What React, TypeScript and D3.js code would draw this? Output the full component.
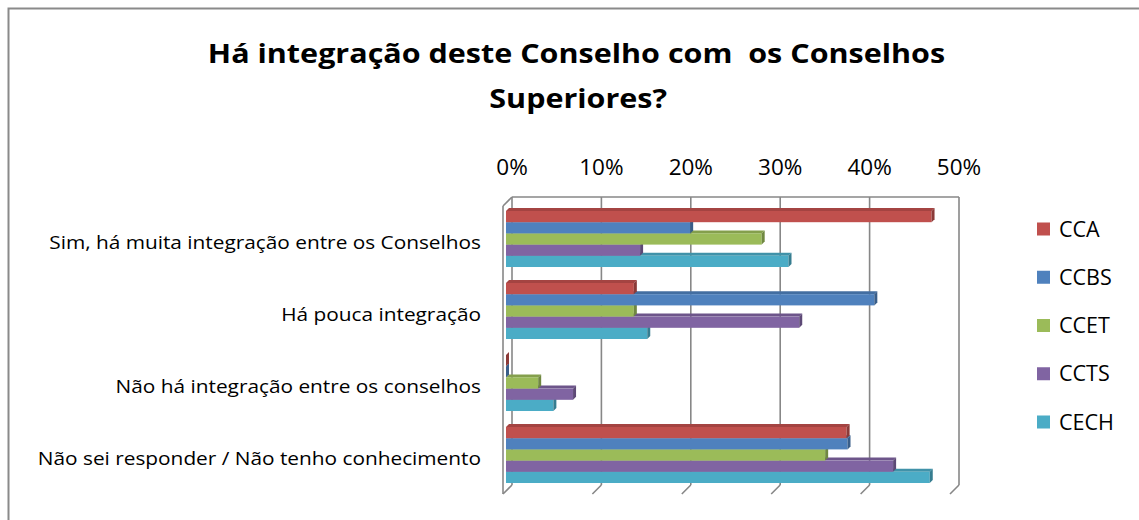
import React from "react";
import * as d3 from "d3";

const categories = [
  "Sim, há muita integração entre os Conselhos",
  "Há pouca integração",
  "Não há integração entre os conselhos",
  "Não sei responder / Não tenho conhecimento",
];
const seriesNames = ["CCA", "CCBS", "CCET", "CCTS", "CECH"];
const cca = [47.6, 14.3, 0, 38.1];
const ccbs = [20.6, 41.2, 0, 38.2];
const ccet = [28.6, 14.3, 3.6, 35.7];
const ccts = [15.0, 32.8, 7.5, 43.3];
const cech = [31.6, 15.8, 5.3, 47.4];
const xTicks = [0, 10, 20, 30, 40, 50];
const colors = ["#C0504D", "#4F81BD", "#9BBB59", "#8064A2", "#4BACC6"];

const seriesValues = [cca, ccbs, ccet, ccts, cech];

const W = 1139;
const H = 520;
const FONT = "'Open Sans', sans-serif";

// 3d offsets: back wall -> front edge
const DX = 9;
const DY = 9;
const BAR_OFF = 6;
const BAR_DEPTH = 3;

// the original font (Calibri) runs wider than Open Sans at the same height
const stretch = (cx: number, sx: number) =>
  `translate(${cx},0) scale(${sx},1) translate(${-cx},0)`;

const App: React.FC = () => {
  const x = d3.scaleLinear().domain([0, 50]).range([512, 959]);
  const y = d3
    .scaleBand<string>()
    .domain(categories)
    .range([197, 485])
    .paddingInner(0.222)
    .paddingOuter(0.111);
  const ySub = d3
    .scaleBand<string>()
    .domain(seriesNames)
    .range([0, y.bandwidth()]);
  const legendY = d3
    .scalePoint<string>()
    .domain(seriesNames)
    .range([229, 422]);

  const top = 197;
  const bottom = 485;
  const gridColor = "#878787";

  // draw bars bottom-up so the upper bar hides the lower bar's top face
  const bars: JSX.Element[] = [];
  categories.forEach((cat, ci) => {
    for (let si = seriesNames.length - 1; si >= 0; si--) {
      const v = seriesValues[si][ci];
      const c = colors[si];
      const x0 = x(0) - BAR_OFF;
      const x1 = x(v) - BAR_OFF;
      const by = (y(cat) as number) + (ySub(seriesNames[si]) as number) + BAR_OFF;
      const h = ySub.bandwidth();
      const d = BAR_DEPTH;
      const topFace = `M${x0},${by}L${x1},${by}L${x1 + d},${by - d}L${x0 + d},${by - d}Z`;
      const sideFace = `M${x1},${by}L${x1 + d},${by - d}L${x1 + d},${by + h - d}L${x1},${by + h}Z`;
      bars.push(
        <g key={`${ci}-${si}`}>
          <path d={topFace} fill={d3.color(c)!.darker(0.45).formatHex()} />
          <rect x={x0} y={by} width={Math.max(0, x1 - x0)} height={h} fill={c} />
          <path d={sideFace} fill={d3.color(c)!.darker(0.9).formatHex()} />
        </g>
      );
    }
  });

  return (
    <svg
      width={W}
      height={H}
      style={{ position: "absolute", left: 0, top: 0, background: "#fff" }}
      fontFamily={FONT}
    >
      <rect x={0} y={0} width={W} height={H} fill="#fff" />
      <rect
        x={8.5}
        y={8.5}
        width={1300}
        height={700}
        fill="none"
        stroke="#8a8a8a"
        strokeWidth={2}
      />

      {/* title */}
      <g
        fontWeight="bold"
        fontSize={27}
        fill="#000"
        textAnchor="middle"
        transform={stretch(576.5, 1.13)}
      >
        <text x={576.5} y={63} xmlSpace="preserve" style={{ whiteSpace: "pre" }}>
          {"Há integração deste Conselho com  os Conselhos"}
        </text>
        <text x={578} y={108}>
          Superiores?
        </text>
      </g>

      {/* walls and gridlines */}
      <g stroke={gridColor} strokeWidth={1.6} fill="none">
        <line x1={x(0)} y1={top} x2={x(50)} y2={top} />
        {xTicks.map((t) => (
          <line key={`g${t}`} x1={x(t)} y1={top} x2={x(t)} y2={bottom} />
        ))}
        {xTicks.map((t) => (
          <line key={`f${t}`} x1={x(t)} y1={bottom} x2={x(t) - DX} y2={bottom + DY} />
        ))}
        <line x1={x(0)} y1={top} x2={x(0) - DX} y2={top + DY} />
        <line x1={x(0) - DX} y1={top + DY} x2={x(0) - DX} y2={bottom + DY} />
      </g>

      {/* tick labels */}
      {xTicks.map((t) => (
        <text key={`t${t}`} x={x(t)} y={175} textAnchor="middle" fontSize={22.5} fill="#000">
          {`${t}%`}
        </text>
      ))}

      {bars}

      {/* category labels */}
      <g transform={stretch(481, 1.19)}>
        {categories.map((cat) => (
          <text
            key={cat}
            x={481}
            y={(y(cat) as number) + y.bandwidth() / 2 + 16}
            textAnchor="end"
            fontSize={17.5}
            fill="#000"
          >
            {cat}
          </text>
        ))}
      </g>

      {/* legend */}
      {seriesNames.map((s, i) => (
        <g key={s}>
          <rect x={1037} y={(legendY(s) as number) - 6.5} width={13} height={13} fill={colors[i]} />
          <text x={1059} y={(legendY(s) as number) + 7.5} fontSize={21.5} fill="#000">
            {s}
          </text>
        </g>
      ))}
    </svg>
  );
};

export default App;
